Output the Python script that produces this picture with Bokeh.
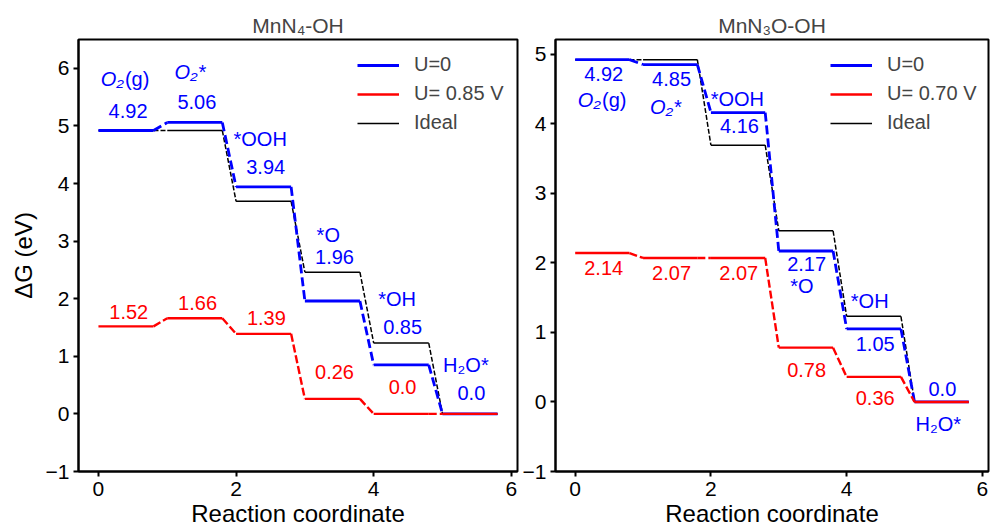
from bokeh.plotting import figure
from bokeh.layouts import row
from bokeh.models import Range1d, Legend, LegendItem, FixedTicker
from bokeh.core.properties import value
from bokeh.embed import file_html
from bokeh.resources import INLINE

# ---------------- data ----------------
steps = [0, 1, 2, 3, 4, 5]
ideal = [4.92, 4.92, 3.69, 2.46, 1.23, 0.0]

left_title = "MnN₄-OH"
left_u0 = [4.92, 5.06, 3.94, 1.96, 0.85, 0.0]
left_uv = [1.52, 1.66, 1.39, 0.26, 0.0, 0.0]
left_uv_name = "U= 0.85 V"

right_title = "MnN₃O-OH"
right_u0 = [4.92, 4.85, 4.16, 2.17, 1.05, 0.0]
right_uv = [2.14, 2.07, 2.07, 0.78, 0.36, 0.0]
right_uv_name = "U= 0.70 V"

x_ticks = [0, 2, 4, 6]
left_y_ticks = [-1, 0, 1, 2, 3, 4, 5, 6]
right_y_ticks = [-1, 0, 1, 2, 3, 4, 5]

# annotation texts and their anchor positions (data units)
left_blue_txt = ["4.92", "5.06", "3.94", "1.96", "0.85", "0.0"]
left_blue_x = [0.43, 1.43, 2.43, 3.43, 4.42, 5.42]
left_blue_y = [5.26, 5.41, 4.29, 2.73, 1.51, 0.36]
left_red_txt = ["1.52", "1.66", "1.39", "0.26", "0.0"]
left_red_x = [0.44, 1.44, 2.44, 3.43, 4.42]
left_red_y = [1.77, 1.92, 1.66, 0.73, 0.47]
left_sp_txt = ["*OOH", "*O", "*OH", "H₂O*"]
left_sp_x = [2.35, 3.34, 4.34, 5.34]
left_sp_y = [4.77, 3.11, 2.00, 0.85]
left_o2s = (1.33, 5.93)
left_o2g = (0.37, 5.81)

right_blue_txt = ["4.92", "4.85", "4.16", "2.17", "1.05", "0.0"]
right_blue_x = [0.42, 1.42, 2.42, 3.41, 4.42, 5.41]
right_blue_y = [4.71, 4.64, 3.96, 1.98, 0.84, 0.19]
right_red_txt = ["2.14", "2.07", "2.07", "0.78", "0.36"]
right_red_x = [0.42, 1.42, 2.41, 3.41, 4.42]
right_red_y = [1.93, 1.85, 1.85, 0.46, 0.05]
right_sp_txt = ["*OOH", "*O", "*OH", "H₂O*"]
right_sp_x = [2.39, 3.34, 4.34, 5.35]
right_sp_y = [4.36, 1.66, 1.45, -0.31]
right_o2s = (1.33, 4.24)
right_o2g = (0.38, 4.34)

FONT = "Liberation Sans"
BLUE = "#0000ff"
RED = "#ff0000"
LEVEL = 0.8


def add_series(p, ys, color, width, dash):
    x0 = [s for s in steps]
    x1 = [s + LEVEL for s in steps]
    h = p.segment(x0=x0, y0=ys, x1=x1, y1=ys, line_color=color, line_width=width)
    cx0 = [s + LEVEL for s in steps[:-1]]
    cx1 = [s + 1 for s in steps[:-1]]
    p.segment(x0=cx0, y0=ys[:-1], x1=cx1, y1=ys[1:], line_color=color,
              line_width=width, line_dash=dash)
    return h


def add_text(p, xs, ys, txt, color, style="normal", align="center", xoff=0):
    p.text(x=xs, y=ys, text=txt, text_color=color, text_font=value(FONT),
           text_font_size="20px", text_font_style=style, text_align=align,
           text_baseline="middle", x_offset=xoff)


def make_panel(title, u0, uv, uv_name, yr, yticks, width, mbl, mbr, ylabel,
               blue_t, blue_x, blue_y, red_t, red_x, red_y,
               sp_t, sp_x, sp_y, o2s, o2g, leg_x):
    p = figure(width=width, height=529, x_range=Range1d(-0.29, 6.09),
               y_range=Range1d(*yr), output_backend="svg", toolbar_location=None,
               min_border_left=mbl, min_border_right=mbr, min_border_top=39,
               min_border_bottom=40)
    p.background_fill_color = "white"
    p.border_fill_color = "white"
    p.xgrid.visible = False
    p.ygrid.visible = False
    p.outline_line_color = "black"
    p.outline_line_width = 2
    p.outline_line_alpha = 1

    p.title.text = title
    p.title.align = "center"
    p.title.text_font = FONT
    p.title.text_font_size = "21px"
    p.title.text_font_style = "normal"
    p.title.standoff = 6

    for ax in (p.xaxis[0], p.yaxis[0]):
        ax.axis_line_width = 2
        ax.major_tick_line_width = 2
        ax.major_tick_out = 5
        ax.major_tick_in = 0
        ax.minor_tick_line_color = None
        ax.major_label_text_font = FONT
        ax.major_label_text_font_size = "21px"
        ax.major_label_text_color = "black"
        ax.axis_label_text_font = FONT
        ax.axis_label_text_font_style = "normal"
        ax.axis_label_text_color = "black"
    p.xaxis.ticker = FixedTicker(ticks=x_ticks)
    p.yaxis.ticker = FixedTicker(ticks=yticks)
    p.yaxis.major_label_overrides = {-1: "−1"}
    p.xaxis.major_label_standoff = 5
    p.yaxis.major_label_standoff = 4
    p.xaxis.axis_label = "Reaction coordinate"
    p.xaxis.axis_label_text_font_size = "24px"
    p.xaxis.axis_label_standoff = 1
    if ylabel:
        p.yaxis.axis_label = ylabel
        p.yaxis.axis_label_text_font_size = "24px"
        p.yaxis.axis_label_standoff = 6

    hk = add_series(p, ideal, "black", 1.5, "5 2")
    hb = add_series(p, u0, BLUE, 2.8, "9 4")
    hr = add_series(p, uv, RED, 2.4, "8 3")

    add_text(p, blue_x, blue_y, blue_t, BLUE)
    add_text(p, red_x, red_y, red_t, RED)
    add_text(p, sp_x, sp_y, sp_t, BLUE)
    add_text(p, [o2s[0]], [o2s[1]], ["O₂*"], BLUE, style="italic")
    add_text(p, [o2g[0]], [o2g[1]], ["O₂"], BLUE, style="italic", align="right")
    add_text(p, [o2g[0]], [o2g[1]], ["(g)"], BLUE, align="left", xoff=1)

    legend = Legend(items=[LegendItem(label="U=0", renderers=[hb]),
                           LegendItem(label=uv_name, renderers=[hr]),
                           LegendItem(label="Ideal", renderers=[hk])],
                    location=(leg_x, 337), padding=0, margin=0, spacing=6,
                    label_height=22, glyph_height=22, glyph_width=42,
                    label_standoff=15, label_text_font=FONT,
                    label_text_font_size="20px", border_line_alpha=0,
                    background_fill_alpha=0)
    p.add_layout(legend)
    return p


p1 = make_panel(left_title, left_u0, left_uv, left_uv_name, (-1, 6.5), left_y_ticks,
                519, 78, 2, "ΔG (eV)",
                left_blue_txt, left_blue_x, left_blue_y,
                left_red_txt, left_red_x, left_red_y,
                left_sp_txt, left_sp_x, left_sp_y, left_o2s, left_o2g, 279)
p2 = make_panel(right_title, right_u0, right_uv, right_uv_name, (-1, 5.21), right_y_ticks,
                471, 34, 2, None,
                right_blue_txt, right_blue_x, right_blue_y,
                right_red_txt, right_red_x, right_red_y,
                right_sp_txt, right_sp_x, right_sp_y, right_o2s, right_o2g, 275)

layout = row(p1, p2)
open("out.html", "w").write(file_html(layout, INLINE))
